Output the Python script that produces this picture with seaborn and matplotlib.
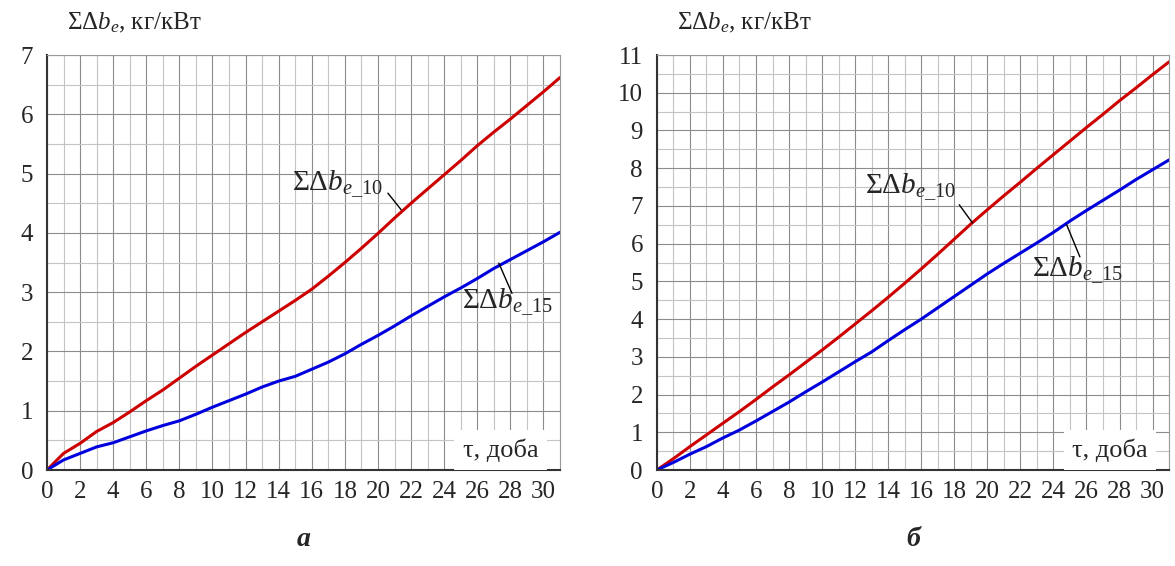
import numpy as np
import pandas as pd
import seaborn as sns
import matplotlib.pyplot as plt
from matplotlib.ticker import MultipleLocator

days = list(range(32))

# panel a
a_b10 = [0, 0.28, 0.45, 0.65, 0.80, 0.98, 1.17, 1.35, 1.55, 1.75, 1.94, 2.13, 2.32, 2.50, 2.68, 2.86,
         3.05, 3.27, 3.50, 3.74, 3.99, 4.25, 4.50, 4.74, 4.98, 5.22, 5.47, 5.70, 5.92, 6.15, 6.38, 6.62]
a_b15 = [0, 0.17, 0.28, 0.39, 0.46, 0.56, 0.66, 0.75, 0.83, 0.94, 1.06, 1.17, 1.28, 1.40, 1.50, 1.58,
         1.70, 1.82, 1.96, 2.12, 2.27, 2.43, 2.60, 2.76, 2.92, 3.07, 3.23, 3.40, 3.55, 3.70, 3.85, 4.01]

# panel b
b_b10 = [0, 0.30, 0.62, 0.93, 1.24, 1.55, 1.87, 2.20, 2.52, 2.85, 3.18, 3.52, 3.87, 4.22, 4.58, 4.95,
         5.33, 5.72, 6.12, 6.52, 6.90, 7.27, 7.63, 8.00, 8.36, 8.72, 9.08, 9.43, 9.79, 10.13, 10.48, 10.82]
b_b15 = [0, 0.20, 0.42, 0.62, 0.85, 1.06, 1.30, 1.55, 1.80, 2.07, 2.33, 2.60, 2.87, 3.13, 3.43, 3.72,
         4.00, 4.30, 4.60, 4.90, 5.20, 5.48, 5.75, 6.02, 6.30, 6.60, 6.88, 7.15, 7.42, 7.70, 7.96, 8.22]

sns.set_style("white")
plt.rcParams['font.family'] = ['Liberation Serif', 'DejaVu Serif']
plt.rcParams['mathtext.fontset'] = 'custom'
plt.rcParams['mathtext.rm'] = 'Liberation Serif'
plt.rcParams['mathtext.it'] = 'Liberation Serif:italic'
plt.rcParams['mathtext.bf'] = 'Liberation Serif:bold'

fig = plt.figure(figsize=(11.75, 5.66), dpi=100)
ax1 = fig.add_axes([0.040, 0.1696, 0.4366, 0.7332])
ax2 = fig.add_axes([0.559, 0.1696, 0.436, 0.7332])

lbl10 = r'ΣΔ$b_{e\_10}$'
lbl15 = r'ΣΔ$b_{e\_15}$'


def draw(ax, r, b, ymax, caption, t10, l10, t15, l15, tau_y):
    df = pd.DataFrame({'day': days, 'b10': r, 'b15': b})
    sns.lineplot(data=df, x='day', y='b10', ax=ax, color='#cc0000', lw=2.2)
    sns.lineplot(data=df, x='day', y='b15', ax=ax, color='#0000dd', lw=2.2)
    ax.set_xlim(0, 31)
    ax.set_ylim(0, ymax)
    ax.xaxis.set_major_locator(MultipleLocator(2))
    ax.xaxis.set_minor_locator(MultipleLocator(1))
    ax.yaxis.set_major_locator(MultipleLocator(1))
    ax.yaxis.set_minor_locator(MultipleLocator(0.5))
    ax.grid(which='major', color='#8c8c8c', lw=0.8)
    ax.grid(which='minor', color='#c4c4c4', lw=0.8)
    ax.set_axisbelow(True)
    ax.tick_params(which='both', direction='out', length=5, width=1.2, color='#333333',
                   labelsize=18, pad=5)
    ax.tick_params(axis='x', which='both', direction='inout', length=10, pad=3)
    for s in ['left', 'bottom']:
        ax.spines[s].set_color('#333333')
        ax.spines[s].set_linewidth(1.5)
    for s in ['top', 'right']:
        ax.spines[s].set_color('#999999')
        ax.spines[s].set_linewidth(0.8)
    ax.set_xlabel('')
    ax.set_ylabel('')
    ax.text(0.039, 1.077, r'ΣΔ$b_e$, кг/кВт', transform=ax.transAxes, fontsize=18,
            ha='left', va='center')
    ax.text(29.7, tau_y, 'τ, доба', fontsize=19, ha='right', va='center',
            bbox=dict(facecolor='white', edgecolor='none', pad=6))
    ax.text(t10[0], t10[1], lbl10, fontsize=21, ha='left', va='center')
    ax.annotate('', xy=l10[1], xytext=l10[0],
                arrowprops=dict(arrowstyle='-', color='black', lw=1, shrinkA=0, shrinkB=0))
    ax.text(t15[0], t15[1], lbl15, fontsize=21, ha='left', va='center')
    ax.annotate('', xy=l15[1], xytext=l15[0],
                arrowprops=dict(arrowstyle='-', color='black', lw=1, shrinkA=0, shrinkB=0))
    ax.text(0.5, -0.168, caption, transform=ax.transAxes, fontsize=20, ha='center',
            va='center', fontweight='bold', fontstyle='italic')


draw(ax1, a_b10, a_b15, 7, 'а',
     (14.8, 4.82), ((20.6, 4.67), (21.4, 4.39)),
     (25.1, 2.82), ((27.3, 3.49), (28.1, 2.98)), 0.34)
draw(ax2, b_b10, b_b15, 11, 'б',
     (12.6, 7.5), ((18.3, 7.03), (19.1, 6.55)),
     (22.7, 5.3), ((24.8, 6.5), (25.6, 5.65)), 0.53)

fig.savefig('out.png', dpi=100)
